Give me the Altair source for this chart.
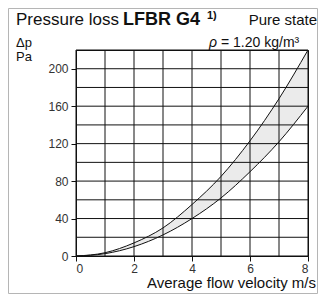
import altair as alt
import pandas as pd

velocity = [0, 1, 2, 3, 4, 5, 6, 7, 8]
upper = [0, 3.5, 14, 30, 55, 85, 123, 168, 220]
lower = [0, 2.5, 10, 22.5, 40, 62, 90, 122, 160]

x_grid = [0, 1, 2, 3, 4, 5, 6, 7, 8]
y_grid = [0, 20, 40, 60, 80, 100, 120, 140, 160, 180, 200, 220]
x_labels = [0, 2, 4, 6, 8]
y_labels = [0, 40, 80, 120, 160, 200]

df = pd.DataFrame({"v": velocity, "hi": upper, "lo": lower})

FONT = "Liberation Sans"
W, H = 232, 206

xs = alt.Scale(domain=[0, 8], nice=False, zero=False)
ys = alt.Scale(domain=[0, 220], nice=False)

x_axis = alt.Axis(
    values=x_labels, title=None, grid=False,
    tickSize=5, tickColor="#111", domainColor="#111", labelFont=FONT, labelFontSize=12,
    labelColor="#333", labelPadding=2,
)
y_axis = alt.Axis(
    values=y_labels, title=None, grid=False,
    tickSize=5, tickColor="#111", domainColor="#111", labelFont=FONT, labelFontSize=12,
    labelColor="#333", labelPadding=3,
)

base = alt.Chart(df)
area = base.mark_area(interpolate="monotone", color="#ebebeb", opacity=1).encode(
    x=alt.X("v:Q", scale=xs, axis=x_axis),
    y=alt.Y("hi:Q", scale=ys, axis=y_axis),
    y2="lo:Q",
)
vgrid = alt.Chart(pd.DataFrame({"g": x_grid})).mark_rule(color="#111", strokeWidth=1).encode(
    x=alt.X("g:Q", scale=xs))
hgrid = alt.Chart(pd.DataFrame({"g": y_grid})).mark_rule(color="#111", strokeWidth=1).encode(
    y=alt.Y("g:Q", scale=ys))
line_hi = base.mark_line(interpolate="monotone", color="#111", strokeWidth=1).encode(
    x=alt.X("v:Q", scale=xs), y=alt.Y("hi:Q", scale=ys))
line_lo = base.mark_line(interpolate="monotone", color="#111", strokeWidth=1).encode(
    x=alt.X("v:Q", scale=xs), y=alt.Y("lo:Q", scale=ys))

def txt(s, x, y, size=13, weight="normal", align="left", style="normal"):
    return alt.Chart(pd.DataFrame({"t": [s]})).mark_text(
        font=FONT, fontSize=size, fontWeight=weight, align=align, baseline="alphabetic",
        fontStyle=style, color="#111",
    ).encode(text="t:N", x=alt.value(x), y=alt.value(y))

texts = [
    txt("Pressure loss", -60, -25, size=17),
    txt("LFBR G4", 47, -25, size=18, weight="bold"),
    txt("1)", 131, -31, size=11, weight="bold"),
    txt("Pure state", 241, -25, size=15, align="right"),
    txt("Δp", -60, -3, size=13),
    txt("Pa", -60, 11, size=13),
    txt("ρ", 133, -3, size=14, style="italic"),
    txt("= 1.20 kg/m³", 145, -3, size=14),
    txt("Average flow velocity m/s", 240, 238, size=15, align="right"),
]

border = alt.Chart(pd.DataFrame({"a": [0]})).mark_rect(
    fillOpacity=0, stroke="#b5b5b5", strokeWidth=1
).encode(x=alt.value(-67.5), x2=alt.value(241.5), y=alt.value(-41.5), y2=alt.value(243.5))

chart = alt.layer(area, vgrid, hgrid, line_hi, line_lo, border, *texts).properties(
    width=W, height=H,
    autosize=alt.AutoSizeParams(type="none"),
    padding={"left": 68, "top": 42, "right": 10, "bottom": 38},
).configure_view(stroke="#111", strokeWidth=1)

chart.save("out.html", embed_options={"renderer": "svg", "actions": False})
